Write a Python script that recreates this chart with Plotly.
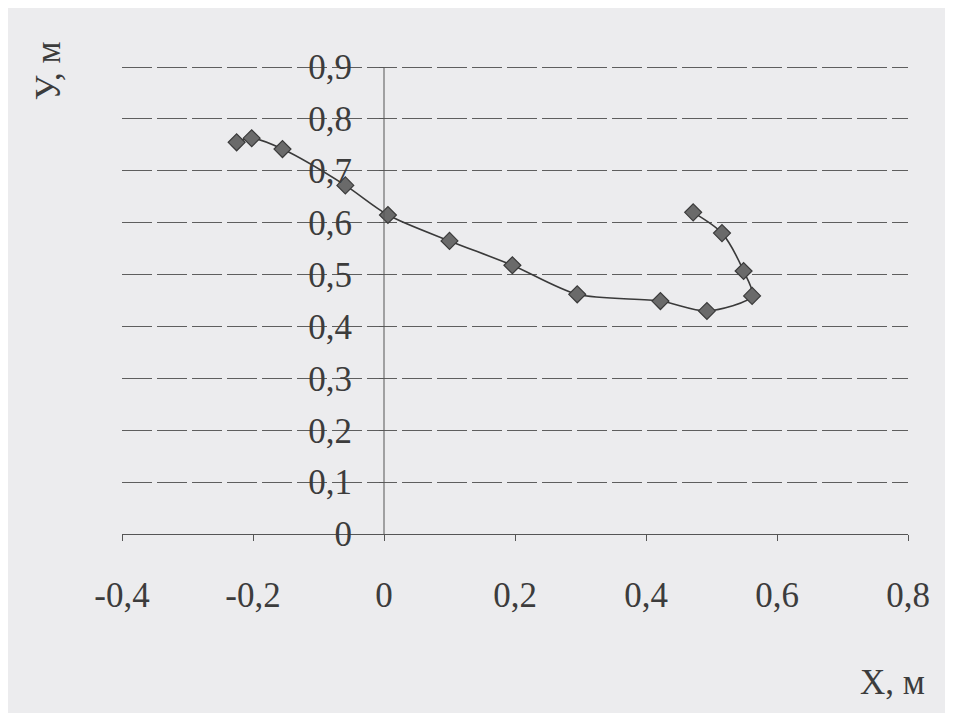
import plotly.graph_objects as go

x_vals = [-0.225, -0.202, -0.155, -0.059, 0.006, 0.100, 0.196, 0.295,
          0.422, 0.493, 0.562, 0.549, 0.516, 0.472]
y_vals = [0.755, 0.763, 0.742, 0.672, 0.615, 0.565, 0.518, 0.462,
          0.449, 0.430, 0.459, 0.507, 0.580, 0.620]

x_ticks = [-0.4, -0.2, 0, 0.2, 0.4, 0.6, 0.8]
x_labels = ["-0,4", "-0,2", "0", "0,2", "0,4", "0,6", "0,8"]
y_ticks = [0, 0.1, 0.2, 0.3, 0.4, 0.5, 0.6, 0.7, 0.8, 0.9]
y_labels = ["0", "0,1", "0,2", "0,3", "0,4", "0,5", "0,6", "0,7", "0,8", "0,9"]

x_range = [-0.4, 0.8]
y_range = [0, 0.906]

FONT = "Liberation Serif"
INK = "#3c3c3c"
BG = "#ececee"

fig = go.Figure()
fig.add_trace(go.Scatter(
    x=x_vals, y=y_vals, mode="lines+markers",
    line=dict(color="#3a3a3a", width=1.6, shape="spline", smoothing=0.8),
    marker=dict(symbol="diamond", size=13, color="#6a6a6a",
                line=dict(color="#3a3a3a", width=1.2)),
    showlegend=False,
))

fig.update_layout(
    width=945, height=705,
    margin=dict(l=114, r=45, t=56, b=179),
    paper_bgcolor=BG, plot_bgcolor=BG,
    font=dict(family=FONT, color=INK, size=35),
    xaxis=dict(
        range=x_range, domain=[0, 1], tickvals=x_ticks, ticktext=x_labels,
        showgrid=False, zeroline=False, showline=True, linecolor="#555",
        linewidth=1, ticks="outside", ticklen=6, tickcolor="#555",
        ticklabelstandoff=24, tickfont=dict(family=FONT, size=35, color=INK),
    ),
    yaxis=dict(
        range=y_range, tickvals=y_ticks, ticktext=y_labels,
        showgrid=True, gridcolor="#5e5e5e", gridwidth=1, griddash="30px,5px",
        zeroline=False, showline=False,
        anchor="free", position=(0 - x_range[0]) / (x_range[1] - x_range[0]),
        ticks="outside", ticklen=5, tickcolor="#555", ticklabelstandoff=20,
        tickfont=dict(family=FONT, size=35, color=INK),
    ),
    xaxis2=dict(range=x_range, overlaying="x", visible=False),
    annotations=[
        dict(text="У, м", xref="paper", yref="paper", x=-0.094, y=0.985,
             xanchor="center", yanchor="middle", textangle=-90, showarrow=False,
             font=dict(family=FONT, size=35, color=INK)),
        dict(text="X, м", xref="paper", yref="paper", x=1.024, y=-0.317,
             xanchor="right", yanchor="middle", showarrow=False,
             font=dict(family=FONT, size=35, color=INK)),
    ],
)

# vertical axis line at x = 0, from 0 up to the top tick
fig.add_trace(go.Scatter(
    x=[x_ticks[2], x_ticks[2]], y=[y_ticks[0], y_ticks[-1]], mode="lines",
    line=dict(color="#555", width=1), hoverinfo="skip", showlegend=False,
))

fig.write_html("out.html")
